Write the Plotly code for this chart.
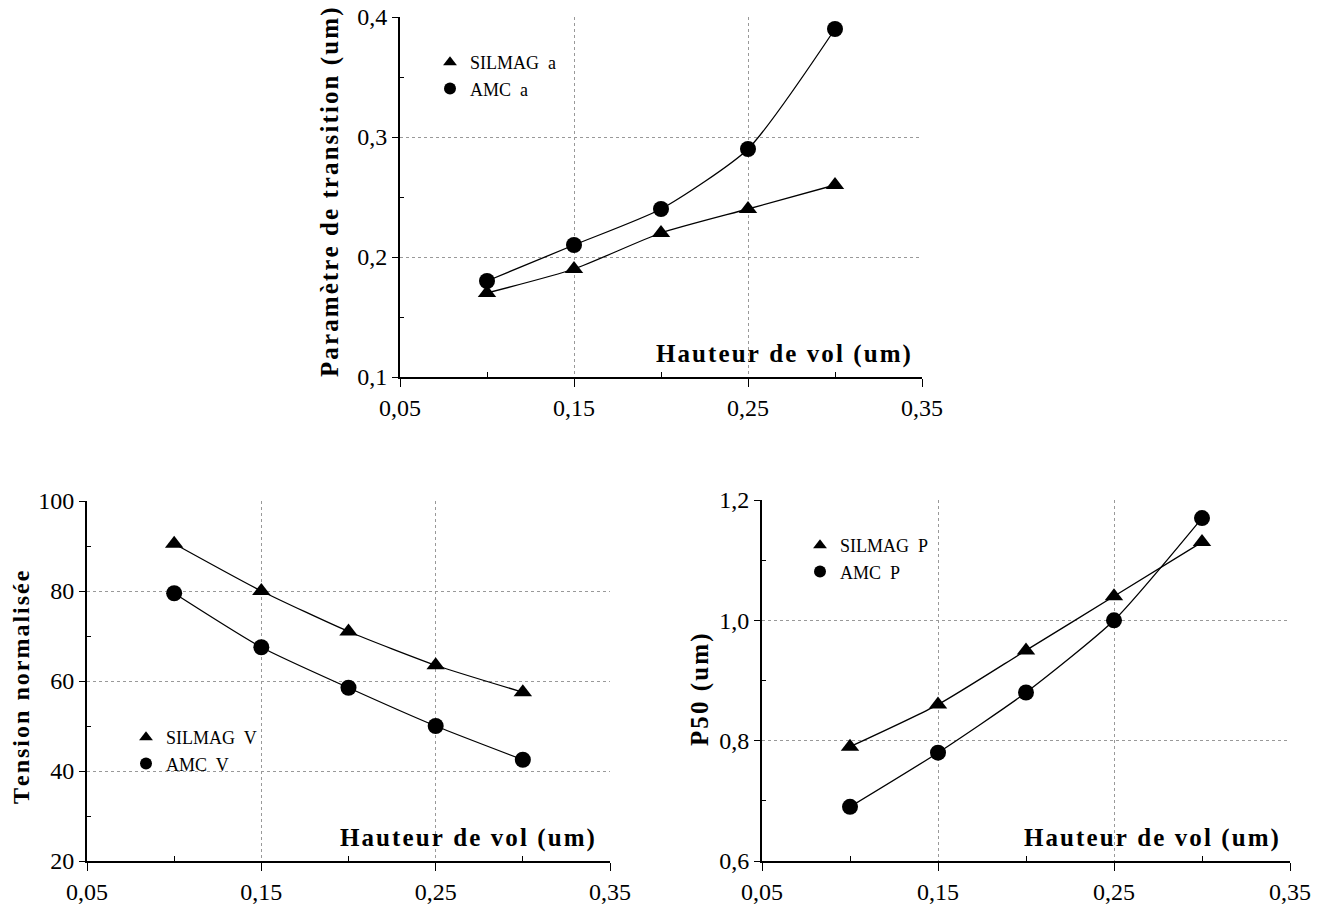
import plotly.graph_objects as go

hauteur = [0.10, 0.15, 0.20, 0.25, 0.30]

silmag_a = [0.17, 0.19, 0.22, 0.24, 0.26]
amc_a = [0.18, 0.21, 0.24, 0.29, 0.39]

silmag_v = [90.5, 80.0, 71.0, 63.5, 57.5]
amc_v = [79.5, 67.5, 58.5, 50.0, 42.5]

silmag_p = [0.79, 0.86, 0.95, 1.04, 1.13]
amc_p = [0.69, 0.78, 0.88, 1.00, 1.17]

W, H = 1331, 906
serif = "Liberation Serif, Times New Roman, serif"
HS = "\u200a"  # hair space, to open up the letters a bit like the scan


def dom_x(a, b):
    return [a / W, b / W]


def dom_y(top, bottom):
    return [1 - bottom / H, 1 - top / H]


def spaced(s):
    return HS.join(s)


fig = go.Figure()

panels = [
    ("x", "y", "legend", silmag_a, amc_a, "SILMAG  a", "AMC  a"),
    ("x2", "y2", "legend2", silmag_v, amc_v, "SILMAG  V", "AMC  V"),
    ("x3", "y3", "legend3", silmag_p, amc_p, "SILMAG  P", "AMC  P"),
]

for xa, ya, lg, sil, amc, n1, n2 in panels:
    for vals, sym in [(sil, "triangle-up"), (amc, "circle")]:
        fig.add_trace(go.Scatter(x=hauteur, y=vals, xaxis=xa, yaxis=ya, showlegend=False,
                                 mode="lines+markers",
                                 line=dict(color="black", width=1.3, shape="spline", smoothing=0.6),
                                 marker=dict(symbol=sym, size=16, color="black")))
    # legend entries: marker only, like the original
    for name, sym in [(n1, "triangle-up"), (n2, "circle")]:
        fig.add_trace(go.Scatter(x=[None], y=[None], name=name, xaxis=xa, yaxis=ya, legend=lg,
                                 mode="markers", marker=dict(symbol=sym, size=16, color="black")))

tickfont = dict(family=serif, size=24, color="black")
xcommon = dict(range=[0.05, 0.35], tickvals=[0.05, 0.15, 0.25, 0.35], tickformat=".2f",
               showline=True, linecolor="black", linewidth=2, ticks="outside", ticklen=8,
               tickcolor="black", showgrid=True, gridcolor="#999999", griddash="dot",
               gridwidth=1, zeroline=False, tickfont=tickfont, fixedrange=True, automargin=False,
               minor=dict(tickvals=[0.10, 0.20, 0.30], ticks="inside", ticklen=5,
                          tickcolor="black", showgrid=False))
ycommon = dict(showline=True, linecolor="black", linewidth=2, ticks="outside", ticklen=6,
               tickcolor="black", showgrid=True, gridcolor="#999999", griddash="dot",
               gridwidth=1, zeroline=False, tickfont=tickfont, automargin=False)


def yminor(vals):
    return dict(tickvals=vals, ticks="inside", ticklen=4, tickcolor="black", showgrid=False)


fig.update_layout(
    xaxis=dict(xcommon, domain=dom_x(400, 922), anchor="y"),
    yaxis=dict(ycommon, domain=dom_y(17, 377), anchor="x", range=[0.1, 0.4],
               tickvals=[0.1, 0.2, 0.3, 0.4], tickformat=".1f",
               minor=yminor([0.15, 0.25, 0.35])),
    xaxis2=dict(xcommon, domain=dom_x(87, 610), anchor="y2"),
    yaxis2=dict(ycommon, domain=dom_y(501, 861), anchor="x2", range=[20, 100],
                tickvals=[20, 40, 60, 80, 100], tickformat="d",
                minor=yminor([30, 50, 70, 90])),
    xaxis3=dict(xcommon, domain=dom_x(762, 1290), anchor="y3"),
    yaxis3=dict(ycommon, domain=dom_y(500, 861), anchor="x3", range=[0.6, 1.2],
                tickvals=[0.6, 0.8, 1.0, 1.2], tickformat=".1f",
                minor=yminor([0.7, 0.9, 1.1])),
)

legend_style = dict(font=dict(family=serif, size=18, color="black"), bgcolor="rgba(0,0,0,0)",
                    xanchor="left", yanchor="top", tracegroupgap=0, itemsizing="constant")
fig.update_layout(
    legend=dict(legend_style, x=430 / W, y=1 - 44 / H),
    legend2=dict(legend_style, x=126 / W, y=1 - 719 / H),
    legend3=dict(legend_style, x=800 / W, y=1 - 527 / H),
)

title_font = dict(family=serif, size=25, color="black")
for xa, ya, xpos in [("x", "y", 0.983), ("x2", "y2", 0.975), ("x3", "y3", 0.983)]:
    fig.add_annotation(text="<b>" + spaced("Hauteur de vol (um)") + "</b>",
                       xref=xa + " domain", yref=ya + " domain",
                       x=xpos, y=0.065, xanchor="right", yanchor="middle", showarrow=False,
                       font=title_font)

ytitles = [("Paramètre de transition (um)", 330, 193, 25),
           ("Tension normalisée", 21, 687, 24),
           ("P50 (um)", 700, 690, 25)]
for txt, px, py, sz in ytitles:
    fig.add_annotation(text="<b>" + spaced(txt) + "</b>", xref="paper", yref="paper",
                       x=px / W, y=1 - py / H, textangle=-90, showarrow=False,
                       xanchor="center", yanchor="middle",
                       font=dict(family=serif, size=sz, color="black"))

fig.update_layout(width=W, height=H, margin=dict(l=0, r=0, t=0, b=0),
                  paper_bgcolor="white", plot_bgcolor="white", separators=",.")

fig.write_html("out.html", config={"displayModeBar": False},
               post_script="document.body.style.margin='0px';")
